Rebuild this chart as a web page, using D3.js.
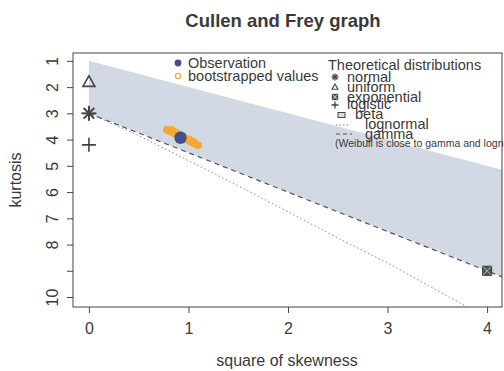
<!DOCTYPE html>
<html lang="en">
<head>
<meta charset="UTF-8">
<script src="https://d3js.org/d3.v7.min.js"></script>
<title>Cullen and Frey graph</title>
<style>
    body { margin: 0; background: #fff; font-family: Arial, "Liberation Sans", sans-serif; }
    svg text { fill: #3a3a3a; }
</style>
</head>
<body>
<svg id="chart" width="504" height="371"></svg>
<script>
// values
const xTicks = [0, 1, 2, 3, 4];
const yTicks = [1, 2, 3, 4, 5, 6, 7, 8, 9, 10];
const yTickLabels = ["1", "2", "3", "4", "5", "6", "7", "8", "", "10"];

// beta region (gray band) corners: [skew^2, kurtosis]
const betaRegion = [[0, 1], [4.15, 5.15], [4.15, 9.23], [0, 3]];
const gammaLine = [[0, 3], [4.15, 9.23]];
const lognormalLine = [[0, 3], [0.5, 3.85], [1, 4.8], [1.5, 5.76], [2, 6.75], [2.5, 7.75], [3, 8.7], [3.5, 9.75], [4, 10.8]];

const observation = [0.92, 3.93];
const bootSkew = [0.78, 0.80, 0.82, 0.83, 0.84, 0.85, 0.86, 0.88, 0.90, 0.91, 0.93, 0.94, 0.95, 0.96, 0.98, 1.00, 1.01, 1.02, 1.03, 1.05, 1.06, 1.08, 1.10];
const bootKurt = [3.62, 3.66, 3.70, 3.62, 3.66, 3.72, 3.78, 3.74, 3.85, 3.80, 3.90, 3.95, 3.88, 3.97, 4.00, 3.98, 4.06, 4.02, 4.10, 4.08, 4.15, 4.18, 4.22];

const normalPt = [0, 3];
const uniformPt = [0, 1.8];
const logisticPt = [0, 4.2];
const exponentialPt = [4, 9];

const svg = d3.select("#chart");
const box = {left: 73, right: 502, top: 53, bottom: 307};

const x = d3.scaleLinear().domain([-0.16, 4.15]).range([box.left, box.right]);
const y = d3.scaleLinear().domain([0.7, 10.38]).range([box.top, box.bottom]);

svg.append("defs").append("clipPath").attr("id", "clip")
    .append("rect")
    .attr("x", box.left).attr("y", box.top)
    .attr("width", box.right - box.left).attr("height", box.bottom - box.top);

const plot = svg.append("g").attr("clip-path", "url(#clip)");
const line = d3.line().x(d => x(d[0])).y(d => y(d[1]));

plot.append("path")
    .attr("d", line(betaRegion) + "Z")
    .attr("fill", "#d3d9e4");

plot.append("path")
    .attr("d", line(lognormalLine))
    .attr("fill", "none").attr("stroke", "#7f8c9c")
    .attr("stroke-width", 1).attr("stroke-dasharray", "1.5,2.5");

plot.append("path")
    .attr("d", line(gammaLine))
    .attr("fill", "none").attr("stroke", "#555")
    .attr("stroke-width", 1.2).attr("stroke-dasharray", "5,4");

// bootstrapped values
plot.selectAll(".boot")
    .data(bootSkew.map((s, i) => [s, bootKurt[i]]))
    .enter().append("circle")
    .attr("cx", d => x(d[0])).attr("cy", d => y(d[1]))
    .attr("r", 3.4)
    .attr("fill", "#f2a93a").attr("stroke", "#f2a93a");

plot.append("circle")
    .attr("cx", x(observation[0])).attr("cy", y(observation[1]))
    .attr("r", 6.2).attr("fill", "#454d8f");

// theoretical points
const symColor = "#444";
function asterisk(g, cx, cy, r, w) {
    [0, 45, 90, 135].forEach(a => {
        const rad = a * Math.PI / 180;
        g.append("line")
            .attr("x1", cx - r * Math.cos(rad)).attr("y1", cy - r * Math.sin(rad))
            .attr("x2", cx + r * Math.cos(rad)).attr("y2", cy + r * Math.sin(rad))
            .attr("stroke", symColor).attr("stroke-width", w);
    });
}
function plus(g, cx, cy, r, w) {
    g.append("path")
        .attr("d", `M${cx - r},${cy}H${cx + r}M${cx},${cy - r}V${cy + r}`)
        .attr("stroke", symColor).attr("stroke-width", w);
}
function triangle(g, cx, cy, r, w) {
    g.append("path")
        .attr("d", `M${cx},${cy - r}L${cx + r},${cy + r * 0.75}L${cx - r},${cy + r * 0.75}Z`)
        .attr("fill", "none").attr("stroke", symColor).attr("stroke-width", w);
}
function squareX(g, cx, cy, r, fill) {
    g.append("rect")
        .attr("x", cx - r).attr("y", cy - r).attr("width", 2 * r).attr("height", 2 * r)
        .attr("fill", fill).attr("stroke", symColor).attr("stroke-width", 1.2);
    g.append("path")
        .attr("d", `M${cx - r},${cy - r}L${cx + r},${cy + r}M${cx + r},${cy - r}L${cx - r},${cy + r}`)
        .attr("stroke", "#ccc").attr("stroke-width", 0.8);
}

const marks = svg.append("g");
asterisk(marks, x(normalPt[0]), y(normalPt[1]), 7.5, 2);
triangle(marks, x(uniformPt[0]), y(uniformPt[1]), 6, 1.6);
plus(marks, x(logisticPt[0]), y(logisticPt[1]), 7, 1.6);
squareX(marks, x(exponentialPt[0]), y(exponentialPt[1]), 4.5, "#555");

// frame
svg.append("rect")
    .attr("x", box.left).attr("y", box.top)
    .attr("width", box.right - box.left).attr("height", box.bottom - box.top)
    .attr("fill", "none").attr("stroke", "#444").attr("stroke-width", 1);

// axes
const xAxis = svg.append("g")
    .attr("transform", `translate(0,${box.bottom})`)
    .call(d3.axisBottom(x).tickValues(xTicks).tickFormat(d3.format("d")).tickSize(6).tickPadding(10));
const yAxis = svg.append("g")
    .attr("transform", `translate(${box.left},0)`)
    .call(d3.axisLeft(y).tickValues(yTicks).tickFormat((d, i) => yTickLabels[i]).tickSize(6).tickPadding(8));

[xAxis, yAxis].forEach(a => {
    a.select(".domain").remove();
    a.selectAll(".tick line").attr("stroke", "#444");
    a.selectAll("text").attr("font-size", 16).attr("font-family", "Arial, 'Liberation Sans', sans-serif").attr("fill", "#3a3a3a");
});
yAxis.selectAll(".tick text")
    .attr("text-anchor", "middle")
    .attr("x", null).attr("dy", null)
    .attr("transform", "translate(-20,0) rotate(-90)")
    .attr("y", 5);

// titles
svg.append("text")
    .attr("x", 283).attr("y", 27)
    .attr("text-anchor", "middle")
    .attr("font-size", 18.5).attr("font-weight", "bold")
    .text("Cullen and Frey graph");

svg.append("text")
    .attr("x", 287).attr("y", 366)
    .attr("text-anchor", "middle").attr("font-size", 16)
    .text("square of skewness");

svg.append("text")
    .attr("transform", `translate(21,${(box.top + box.bottom) / 2}) rotate(-90)`)
    .attr("text-anchor", "middle").attr("font-size", 16)
    .text("kurtosis");

// legend: observation
const leg = svg.append("g").attr("font-size", 14.5);
leg.append("circle").attr("cx", 178).attr("cy", 63).attr("r", 3.4).attr("fill", "#454d8f");
leg.append("text").attr("x", 188).attr("y", 67.5).text("Observation");
leg.append("circle").attr("cx", 178).attr("cy", 76).attr("r", 2.6)
    .attr("fill", "none").attr("stroke", "#f2a93a").attr("stroke-width", 1.3);
leg.append("text").attr("x", 188).attr("y", 80.5).text("bootstrapped values");

// legend: theoretical distributions
leg.append("text").attr("x", 328).attr("y", 70).text("Theoretical distributions");
asterisk(leg, 335, 77, 3.5, 1.3);
leg.append("text").attr("x", 347).attr("y", 82).text("normal");
triangle(leg, 335, 87, 3, 1.1);
leg.append("text").attr("x", 347).attr("y", 92).text("uniform");
squareX(leg, 335, 97, 2.6, "#666");
leg.append("text").attr("x", 347).attr("y", 101.5).text("exponential");
plus(leg, 335, 105, 3.5, 1.3);
leg.append("text").attr("x", 347).attr("y", 109).text("logistic");
leg.append("rect").attr("x", 338).attr("y", 112.5).attr("width", 7).attr("height", 5)
    .attr("fill", "#ddd").attr("stroke", "#444").attr("stroke-width", 1);
leg.append("text").attr("x", 355).attr("y", 119).text("beta");
leg.append("line").attr("x1", 336).attr("x2", 350).attr("y1", 125).attr("y2", 125)
    .attr("stroke", "#7f8c9c").attr("stroke-dasharray", "1.5,2");
leg.append("text").attr("x", 365).attr("y", 129).text("lognormal");
leg.append("line").attr("x1", 336).attr("x2", 352).attr("y1", 134).attr("y2", 134)
    .attr("stroke", "#555").attr("stroke-dasharray", "4,3");
leg.append("text").attr("x", 365).attr("y", 138.5).text("gamma");
leg.append("text").attr("x", 335).attr("y", 147).attr("font-size", 10.5)
    .text("(Weibull is close to gamma and lognormal)");
</script>
</body>
</html>
